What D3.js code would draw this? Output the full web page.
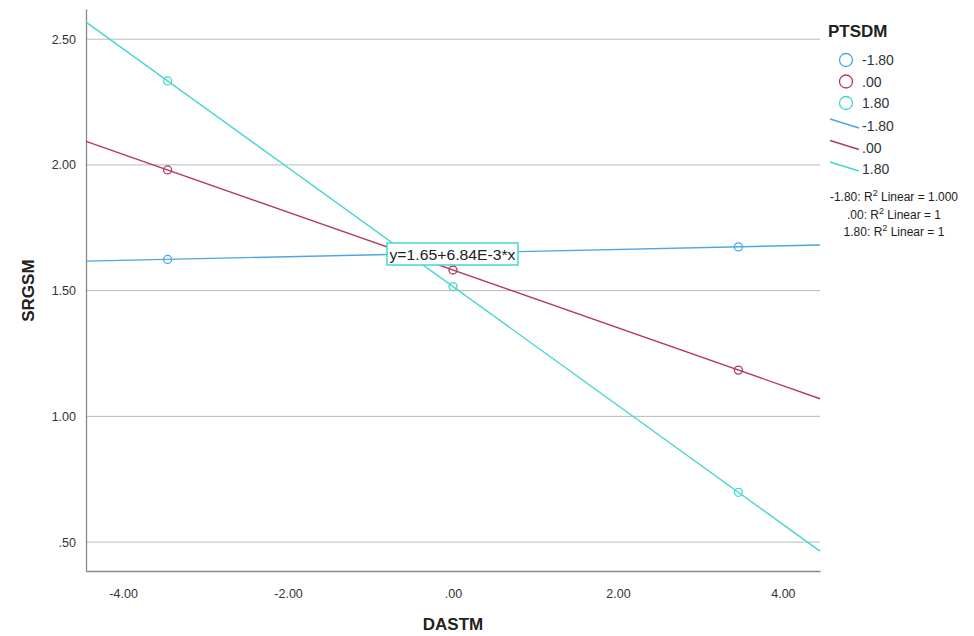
<!DOCTYPE html>
<html>
<head>
<meta charset="utf-8">
<script src="https://cdn.jsdelivr.net/npm/d3@7"></script>
<style>
  body { margin: 0; background: #fff; }
  text { font-family: "Liberation Sans", Arial, sans-serif; }
</style>
</head>
<body>
<div id="chart"></div>
<script>
// data
const groups = ["-1.80", ".00", "1.80"];
const xMeans = [-3.46, 0, 3.46];
const yBlue = [1.624, 1.650, 1.674];
const yRed = [1.980, 1.582, 1.184];
const yCyan = [2.334, 1.516, 0.698];
const colors = ["#4aa7e6", "#b03a62", "#45d6d0"];
const xTicks = [-4, -2, 0, 2, 4];
const yTicks = [0.5, 1, 1.5, 2, 2.5];
const r2Labels = ["-1.80: R² Linear = 1.000", ".00: R² Linear = 1", "1.80: R² Linear = 1"];
const fitLabel = "y=1.65+6.84E-3*x";

const showViz = () => {
  const width = 974, height = 636;
  const margin = {left: 86, right: 154, top: 9, bottom: 65};

  const svg = d3.select("#chart").append("svg")
      .attr("width", width)
      .attr("height", height);

  const x = d3.scaleLinear().domain([-4.45, 4.45]).range([margin.left, width - margin.right]);
  const y = d3.scaleLinear().domain([0.385, 2.62]).range([height - margin.bottom, margin.top]);

  const fmt = v => {
    let s = v.toFixed(2);
    return s.replace(/^0\./, ".").replace(/^-0\./, "-.");
  };

  // gridlines
  svg.append("g")
    .selectAll("line")
    .data(yTicks)
    .join("line")
      .attr("x1", x.range()[0]).attr("x2", x.range()[1])
      .attr("y1", d => y(d)).attr("y2", d => y(d))
      .attr("stroke", "#b9b9b9").attr("stroke-width", 1);

  // axes
  const xAxis = svg.append("g")
      .attr("transform", `translate(0,${y.range()[0]})`)
      .call(d3.axisBottom(x).tickValues(xTicks).tickFormat(fmt).tickSize(0).tickPadding(18));
  const yAxis = svg.append("g")
      .attr("transform", `translate(${x.range()[0]},0)`)
      .call(d3.axisLeft(y).tickValues(yTicks).tickFormat(fmt).tickSize(0).tickPadding(10));
  [xAxis, yAxis].forEach(a => {
    a.select(".domain").attr("stroke", "#888").attr("stroke-width", 1.3);
    a.selectAll("text").attr("font-size", 12.5).attr("fill", "#333")
      .style("font-family", "'Liberation Sans', Arial, sans-serif");
  });

  svg.append("text")
      .attr("x", 453).attr("y", 630)
      .attr("text-anchor", "middle")
      .attr("font-size", 17).attr("font-weight", "bold").attr("fill", "#222")
      .text("DASTM");
  svg.append("text")
      .attr("transform", `translate(34,${y(1.5)}) rotate(-90)`)
      .attr("text-anchor", "middle")
      .attr("font-size", 17).attr("font-weight", "bold").attr("fill", "#222")
      .text("SRGSM");

  const series = [yBlue, yRed, yCyan].map((ys, i) => ({
    name: groups[i], color: colors[i],
    pts: xMeans.map((xv, j) => ({x: xv, y: ys[j]}))
  }));

  // least squares fit lines
  const fit = pts => {
    const mx = d3.mean(pts, d => d.x), my = d3.mean(pts, d => d.y);
    const b = d3.sum(pts, d => (d.x - mx) * (d.y - my)) / d3.sum(pts, d => (d.x - mx) ** 2);
    return {a: my - b * mx, b};
  };

  const plot = svg.append("g");
  const [x0, x1] = x.domain();
  series.forEach(s => {
    const f = fit(s.pts);
    plot.append("line")
      .attr("x1", x(x0)).attr("y1", y(f.a + f.b * x0))
      .attr("x2", x(x1)).attr("y2", y(f.a + f.b * x1))
      .attr("stroke", s.color).attr("stroke-width", 1.4);
  });
  series.forEach(s => {
    plot.selectAll(null)
      .data(s.pts)
      .join("circle")
        .attr("cx", d => x(d.x)).attr("cy", d => y(d.y))
        .attr("r", 4)
        .attr("fill", "none")
        .attr("stroke", s.color).attr("stroke-width", 1.3);
  });

  // fit label box
  const box = svg.append("g").attr("transform", `translate(387,243)`);
  box.append("rect")
      .attr("width", 131).attr("height", 22)
      .attr("fill", "#fff").attr("stroke", colors[2]).attr("stroke-width", 1.5);
  box.append("text")
      .attr("x", 65.5).attr("y", 16.5)
      .attr("text-anchor", "middle")
      .attr("font-size", 14).attr("fill", "#222")
      .attr("textLength", 126).attr("lengthAdjust", "spacingAndGlyphs")
      .text(fitLabel);

  // legend
  const leg = svg.append("g");
  leg.append("text")
      .attr("x", 828).attr("y", 37)
      .attr("font-size", 17).attr("font-weight", "bold").attr("fill", "#222")
      .text("PTSDM");
  groups.forEach((g, i) => {
    const yy = 60 + i * 21.5;
    leg.append("circle")
        .attr("cx", 846).attr("cy", yy).attr("r", 6.5)
        .attr("fill", "none").attr("stroke", colors[i]).attr("stroke-width", 1.3);
    leg.append("text")
        .attr("x", 862).attr("y", yy + 5)
        .attr("font-size", 14).attr("fill", "#333")
        .text(g);
  });
  groups.forEach((g, i) => {
    const yy = 126 + i * 21.5;
    leg.append("line")
        .attr("x1", 830).attr("y1", yy - 7)
        .attr("x2", 859).attr("y2", yy + 2)
        .attr("stroke", colors[i]).attr("stroke-width", 1.4);
    leg.append("text")
        .attr("x", 862).attr("y", yy + 5)
        .attr("font-size", 14).attr("fill", "#333")
        .text(g);
  });
  r2Labels.forEach((t, i) => {
    const parts = t.split("R²");
    const tx = leg.append("text")
        .attr("x", 894).attr("y", 201 + i * 17.5)
        .attr("text-anchor", "middle")
        .attr("font-size", 12).attr("fill", "#222");
    tx.append("tspan").text(parts[0] + "R");
    tx.append("tspan").attr("dy", -5).attr("font-size", 9).text("2");
    tx.append("tspan").attr("dy", 5).text(parts[1]);
  });
}

showViz()
</script>
</body>
</html>
